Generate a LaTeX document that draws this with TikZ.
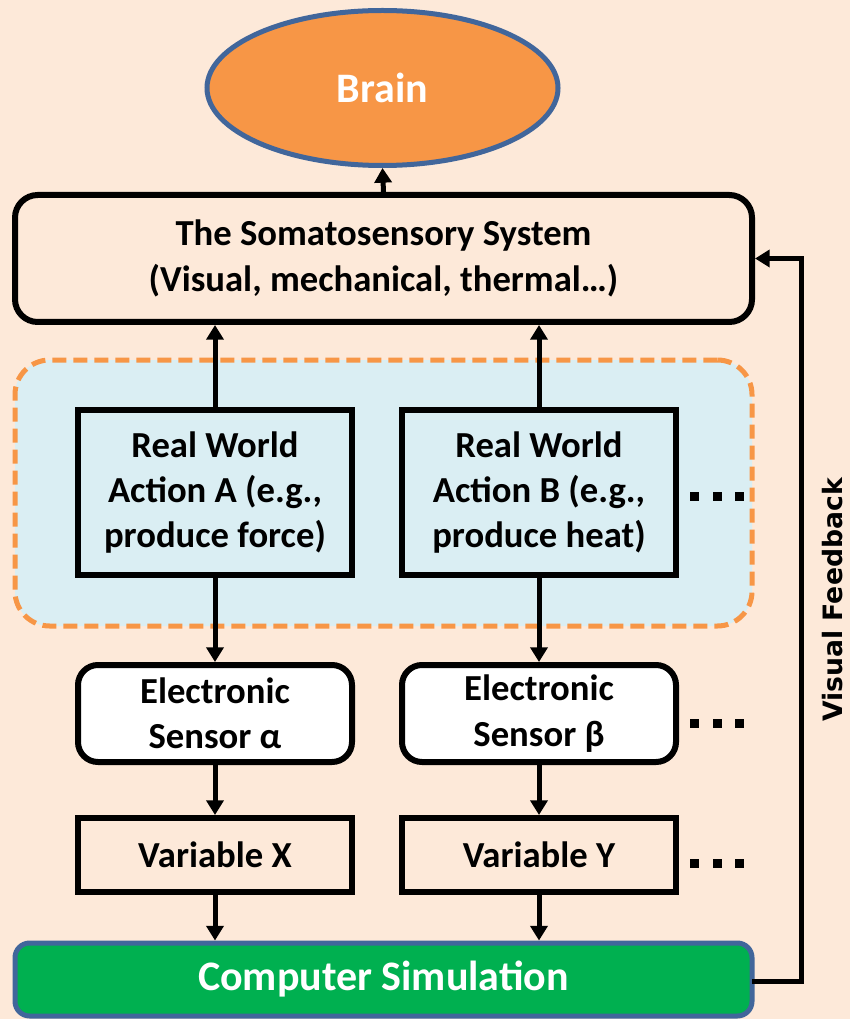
\documentclass[tikz,border=0pt]{standalone}
\usepackage{fontspec}
\setmainfont{Carlito}
\newfontfamily\vffont{DejaVu Sans}
\usetikzlibrary{shapes.geometric,arrows.meta}
\definecolor{bgc}{HTML}{FDE9D9}
\definecolor{lblue}{HTML}{DAEEF3}
\definecolor{orng}{HTML}{F79646}
\definecolor{bord}{HTML}{41669B}
\definecolor{grn}{HTML}{00B050}
\begin{document}
\begin{tikzpicture}[x=0.75pt,y=-0.75pt,
  txt/.style={font=\fontsize{27.5}{34}\selectfont\bfseries, align=center},
  bigtxt/.style={font=\fontsize{31.5}{38}\selectfont\bfseries, align=center, text=white},
  colbox/.style={draw=black, line width=4.5pt, inner sep=0pt, txt, minimum width=274*0.75pt},
  widebox/.style={line width=4.5pt, inner sep=0pt, minimum width=737*0.75pt},
  arr/.style={line width=3.75pt, -{Triangle[length=11pt,width=12.75pt]}},
  dotsq/.style={fill=black},
]
\useasboundingbox (0,0) rectangle (850,1019);
\fill[bgc] (0,0) rectangle (850,1019);

% group region
\node[widebox, line width=3.75pt, draw=orng, dash pattern=on 10.5pt off 5.25pt, fill=lblue, rounded corners=26pt,
      minimum height=266*0.75pt] (grp) at (383.5,493) {};

% brain
\node[ellipse, draw=bord, line width=3.75pt, fill=orng, inner sep=0pt,
      minimum width=351*0.75pt, minimum height=155*0.75pt, bigtxt] (brain) at (382.5,88) {Brain};

% somatosensory
\node[widebox, draw=black, fill=bgc, rounded corners=17pt, minimum height=127*0.75pt, txt]
  (soma) at (383.5,258.5) {The Somatosensory System\\(Visual, mechanical, thermal…)};

% real world actions
\node[colbox, fill=lblue, minimum height=165*0.75pt] (rwa) at (215,492.5)
  {Real World\\Action A (e.g.,\\produce force)};
\node[colbox, fill=lblue, minimum height=165*0.75pt] (rwb) at (539,492.5)
  {Real World\\Action B (e.g.,\\produce heat)};

% sensors
\node[colbox, fill=white, rounded corners=15pt, minimum height=97*0.75pt] (sa) at (215,713.5)
  {Electronic\\Sensor α};
\node[colbox, fill=white, rounded corners=15pt, minimum height=97*0.75pt] (sb) at (539,713.5)
  {Electronic\\Sensor β};

% variables
\node[colbox, fill=bgc, minimum height=74*0.75pt] (vx) at (215,855) {Variable X};
\node[colbox, fill=bgc, minimum height=74*0.75pt] (vy) at (539,855) {Variable Y};

% simulation
\node[widebox, line width=3.75pt, draw=bord, fill=grn, rounded corners=11pt, minimum height=73*0.75pt, bigtxt]
  (sim) at (383.5,979.5) {Computer Simulation};

% dots
\foreach \yy in {496,723,863}{
  \foreach \xx in {694.5,717.5,739.5}{
    \fill[dotsq] (\xx-4.5,\yy-4.5) rectangle (\xx+4.5,\yy+4.5);
  }
}

% arrows
\draw[arr] (soma.north) -- (brain.south);
\draw[arr] (rwa.north) -- (rwa.north |- soma.south);
\draw[arr] (rwb.north) -- (rwb.north |- soma.south);
\draw[arr] (rwa.south) -- (sa.north);
\draw[arr] (rwb.south) -- (sb.north);
\draw[arr] (sa.south) -- (vx.north);
\draw[arr] (sb.south) -- (vy.north);
\draw[arr] (vx.south) -- (vx.south |- sim.north);
\draw[arr] (vy.south) -- (vy.south |- sim.north);

% feedback
\coordinate (fbc) at (801,258.5);
\coordinate (fbs) at (752,981);
\draw[arr] (fbs) -| (fbc) -- (soma.east);
\node[rotate=90, font=\vffont\bfseries\fontsize{20}{24}\selectfont] (fbl) at (833,600) {Visual Feedback};
\end{tikzpicture}
\end{document}
